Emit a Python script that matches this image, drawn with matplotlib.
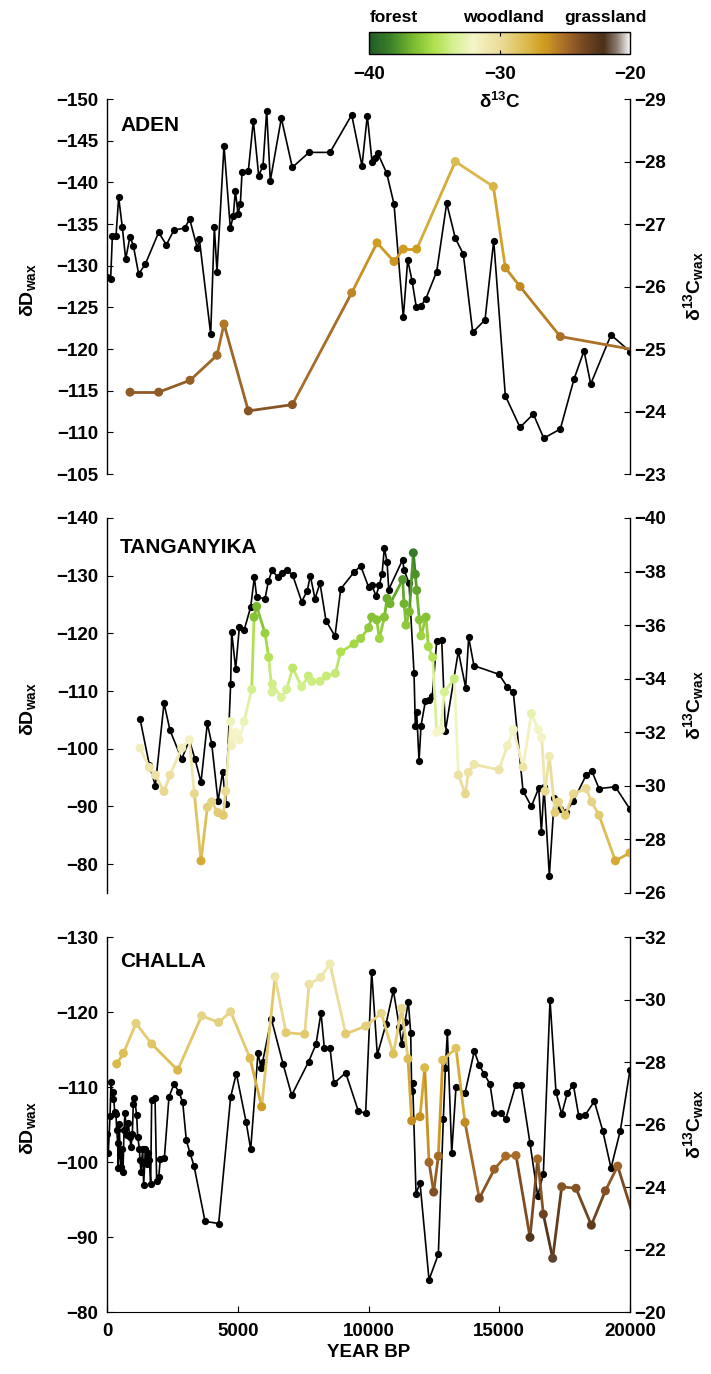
import numpy as np
import matplotlib
matplotlib.use('Agg')
import matplotlib.pyplot as plt
from matplotlib.collections import LineCollection
from matplotlib.colors import LinearSegmentedColormap, Normalize
from matplotlib.cm import ScalarMappable

plt.rcParams['font.family'] = ['Liberation Sans', 'DejaVu Sans']
plt.rcParams['font.weight'] = 'bold'
plt.rcParams['mathtext.fontset'] = 'custom'
plt.rcParams['mathtext.bf'] = 'Liberation Sans:bold'
plt.rcParams['mathtext.rm'] = 'Liberation Sans:bold'
plt.rcParams['mathtext.default'] = 'bf'

# ---- data: ADEN ----
aden_age = [11, 140, 205, 345, 446, 586, 714, 880, 1007, 1211, 1466, 1976, 2269, 2562, 2970, 3161,
            3455, 3531, 3965, 4105, 4206, 4474, 4716, 4831, 4908, 5010, 5099, 5163, 5405, 5596, 5800,
            5966, 6106, 6245, 6666, 7087, 7725, 8528, 9357, 9751, 9954, 10134, 10262, 10352, 10696,
            10975, 11331, 11499, 11664, 11829, 12008, 12187, 12608, 12990, 13320, 13625, 13985,
            14455, 14788, 15232, 15794, 16304, 16700, 17335, 17859, 18241, 18497, 19273, 20000]
aden_dD = [-128.7, -128.4, -133.6, -133.6, -138.2, -134.6, -130.8, -133.5, -132.4, -129, -130.2, -134,
           -132.5, -134.3, -134.5, -135.6, -132.1, -133.2, -121.8, -134.6, -129.3, -144.4, -134.5,
           -136, -139, -136.2, -137.4, -141.2, -141.4, -147.4, -140.8, -142, -148.6, -140.2, -147.7,
           -141.8, -143.6, -143.6, -148.1, -142, -148, -142.5, -142.9, -143.5, -141.1, -137.4, -123.8,
           -130.7, -128.2, -125, -125.2, -126, -129.3, -137.5, -133.3, -131.4, -122, -123.5, -133,
           -114.4, -110.6, -112.2, -109.3, -110.4, -116.4, -119.8, -115.8, -121.7, -119.7]
aden_c_age = [880, 1976, 3174, 4206, 4474, 5405, 7087, 9357, 10325, 10975, 11331, 11843, 13320,
              14774, 15232, 15794, 17335, 20400]
aden_d13c = [-24.31, -24.31, -24.5, -24.9, -25.4, -24.01, -24.11, -25.9, -26.7, -26.4, -26.6, -26.6,
             -28.0, -27.6, -26.3, -26.0, -25.2, -24.97]

# ---- data: TANGANYIKA ----
tang_age = [1262, 1619, 1848, 2180, 2409, 2856, 3148, 3365, 3595, 3836, 4003, 4245, 4424, 4538, 4729,
            4767, 4920, 5061, 5240, 5495, 5634, 5724, 6042, 6169, 6310, 6526, 6679, 6871, 7100, 7444,
            7659, 7774, 7954, 8145, 8374, 8719, 8936, 9445, 9700, 10006, 10121, 10286, 10415, 10518,
            10606, 10709, 10773, 11307, 11358, 11549, 11740, 11790, 11843, 11932, 12008, 12173, 12315,
            12441, 12608, 12799, 12939, 13435, 13715, 13830, 14032, 14990, 15309, 15538, 15909, 16227,
            16510, 16610, 16712, 16915, 17106, 17324, 17553, 17833, 18319, 18535, 18815, 19440, 20000]
tang_dD = [-105.2, -97.2, -93.6, -107.9, -103.2, -98.2, -101.5, -98.2, -94.2, -104.4, -100.9, -90.9,
           -96, -90.5, -111.3, -120.3, -113.8, -121.1, -120.5, -124.6, -129.7, -126.3, -126, -129,
           -130.9, -129.8, -130.5, -130.9, -130.1, -125.5, -127.4, -130, -126, -128.7, -122.2, -119.5,
           -127.7, -130.6, -131.7, -128, -128.4, -126.5, -128.4, -130.3, -134.8, -132.4, -127.6,
           -132.8, -131, -128.7, -113.2, -104, -106.3, -97.8, -104, -108.2, -108.5, -109.2, -118.7,
           -118.9, -103, -116.9, -110.6, -119.3, -114.4, -112.9, -110.7, -109.8, -92.7, -90, -93.2,
           -85.5, -93.4, -78, -91.5, -89.5, -89.1, -90.9, -95.4, -96.2, -93.1, -93.4, -89.5]
tang_c_age = [1262, 1619, 1848, 2180, 2409, 2856, 3148, 3340, 3595, 3836, 4003, 4245, 4449, 4538, 4729,
              4767, 4920, 5061, 5240, 5533, 5622, 5724, 6042, 6182, 6310, 6322, 6666, 6871, 7100, 7444,
              7699, 7826, 8145, 8387, 8731, 8936, 9445, 9700, 10006, 10121, 10312, 10415, 10606, 10709,
              10823, 11307, 11358, 11434, 11562, 11714, 11790, 11843, 11944, 12008, 12200, 12288,
              12454, 12608, 12761, 12900, 13282, 13435, 13703, 13817, 14032, 14990, 15309, 15538,
              15909, 16227, 16496, 16621, 16750, 16915, 17132, 17259, 17527, 17833, 18319, 18535,
              18815, 19440, 20000]
tang_d13c = [-31.41, -30.69, -30.4, -29.79, -30.4, -31.41, -31.72, -29.71, -27.2, -29.2, -29.4, -29.0,
             -28.9, -29.8, -32.4, -31.5, -32.0, -31.72, -32.4, -33.6, -36.3, -36.7, -35.7, -34.8,
             -33.5, -33.8, -33.3, -33.6, -34.4, -33.7, -34.1, -33.9, -33.9, -34.1, -34.2, -35.0,
             -35.3, -35.5, -35.9, -36.3, -36.2, -35.5, -36.3, -37.0, -36.8, -37.7, -36.8, -36.0,
             -36.5, -38.7, -37.9, -37.3, -36.2, -35.6, -36.3, -35.2, -34.8, -32.0, -32.1, -33.5,
             -34.0, -30.4, -29.7, -30.5, -30.8, -30.6, -31.5, -32.1, -30.7, -32.7, -32.1, -31.8,
             -29.8, -31.1, -29.0, -29.4, -28.9, -29.7, -29.9, -29.4, -28.9, -27.2, -27.5]

# ---- data: CHALLA ----
challa_age = [0, 50, 115, 153, 217, 242, 293, 344, 370, 408, 433, 472, 497, 535, 574, 612, 650, 688,
              752, 816, 867, 918, 969, 1007, 1045, 1134, 1173, 1237, 1262, 1300, 1364, 1402, 1466,
              1517, 1568, 1619, 1670, 1708, 1836, 1899, 1976, 2040, 2193, 2371, 2562, 2741, 2894,
              3033, 3174, 3327, 3748, 4270, 4729, 4946, 5316, 5495, 5775, 5889, 5953, 6284, 6731,
              7062, 7712, 7992, 8183, 8311, 8528, 8681, 9128, 9610, 9891, 10121, 10336, 10669, 10950,
              11180, 11269, 11396, 11523, 11613, 11651, 11690, 11817, 11970, 12314, 12670, 12861,
              12939, 13015, 13182, 13346, 13690, 14046, 14237, 14428, 14646, 14811, 15055, 15246,
              15629, 15832, 16176, 16470, 16685, 16941, 17170, 17388, 17603, 17833, 18037, 18292,
              18636, 18955, 19273, 19630, 20000]
challa_dD = [-103.7, -101.2, -106.1, -110.7, -108.4, -109.4, -106.7, -106.4, -104.3, -102.6, -99.2,
             -105.1, -101.0, -99.4, -101.8, -98.7, -104.3, -106.6, -103.6, -105.2, -103.4, -102.0,
             -103.8, -107.8, -108.6, -106.3, -103.4, -101.8, -100.3, -98.7, -101.8, -96.9, -101.8,
             -99.8, -101.2, -100.3, -97.1, -108.3, -108.6, -97.5, -98.0, -100.4, -100.5, -108.7,
             -110.4, -109.4, -108.0, -102.9, -101.2, -99.5, -92.1, -91.8, -108.7, -111.8, -105.4,
             -101.7, -114.6, -112.5, -113.4, -119.1, -113.1, -108.9, -113.4, -115.7, -119.9, -115.2,
             -115.2, -110.5, -111.9, -106.8, -106.5, -125.4, -114.3, -118.4, -122.9, -118.0, -115.7,
             -118.7, -121.4, -117.2, -109.5, -110.5, -95.8, -97.2, -84.3, -87.7, -105.7, -112.5,
             -117.3, -101.2, -110.0, -109.2, -114.8, -112.9, -111.7, -110.4, -106.5, -106.6, -105.7,
             -110.3, -110.3, -102.5, -95.5, -98.4, -121.6, -109.3, -106.4, -109.2, -110.3, -106.2,
             -106.3, -108.1, -104.2, -99.2, -104.2, -112.3]
challa_c_age = [370, 625, 1109, 1708, 2703, 3620, 4270, 4729, 5469, 5915, 6425, 6845, 7559, 7725, 8170,
                8528, 9128, 9891, 10490, 10950, 11269, 11510, 11651, 11970, 12148, 12314, 12492, 12670,
                12837, 13346, 13690, 14237, 14811, 15246, 15641, 16176, 16470, 16685, 17043, 17388,
                17935, 18522, 19057, 19528, 20300]
challa_d13c = [-27.94, -28.28, -29.24, -28.58, -27.74, -29.48, -29.27, -29.61, -28.12, -26.57, -30.73,
               -28.94, -28.89, -30.49, -30.71, -31.14, -28.9, -29.15, -29.56, -28.26, -29.72, -28.1,
               -26.12, -26.25, -27.82, -24.79, -23.84, -24.99, -28.06, -28.44, -26.07, -23.64, -24.57,
               -24.99, -25.01, -22.39, -24.9, -23.13, -21.72, -24.01, -23.96, -22.78, -23.88, -24.67,
               -22.6]

# colour scale (forest -> woodland -> grassland)
cmap = LinearSegmentedColormap.from_list('veg', [
    (0.00, '#1f5a28'), (0.08, '#3c8228'), (0.17, '#7cbc30'), (0.25, '#b0e050'),
    (0.32, '#d4f090'), (0.40, '#f5f5c8'), (0.50, '#eadc98'), (0.60, '#dcbc50'),
    (0.67, '#d09c20'), (0.75, '#a86c28'), (0.82, '#7a4a22'), (0.90, '#4a3018'),
    (0.95, '#8a7a70'), (1.00, '#f4f4f4')])
norm = Normalize(-40, -20)

fig = plt.figure(figsize=(7.11, 13.74), dpi=100)

panels = [
    ('ADEN', aden_age, aden_dD, aden_c_age, aden_d13c, (-105, -150), range(-150, -104, 5),
     (-23, -29), range(-29, -22, 1), 0.6550, 0.929),
    ('TANGANYIKA', tang_age, tang_dD, tang_c_age, tang_d13c, (-75, -140), range(-140, -79, 10),
     (-26, -40), range(-40, -25, 2), 0.3501, 0.921),
    ('CHALLA', challa_age, challa_dD, challa_c_age, challa_d13c, (-80, -130), range(-130, -79, 10),
     (-20, -32), range(-32, -19, 2), 0.0451, 0.936),
]

for i, (name, age, dD, cage, c13, ylim, yt, ylim2, yt2, bottom, ty) in enumerate(panels):
    ax = fig.add_axes([0.1505, bottom, 0.7356, 0.2729])
    ax2 = ax.twinx()
    ax.plot(age, dD, '-o', color='black', lw=1.2, ms=4.2, zorder=3)

    x = np.array(cage, dtype=float)
    y = np.array(c13, dtype=float)
    pts = np.column_stack([x, y]).reshape(-1, 1, 2)
    segs = np.concatenate([pts[:-1], pts[1:]], axis=1)
    lc = LineCollection(segs, colors=cmap(norm((y[:-1] + y[1:]) / 2)), linewidths=2.0, zorder=2)
    ax2.add_collection(lc)
    ax2.scatter(x, y, s=42, c=cmap(norm(y)), edgecolors='none', zorder=3)

    ax.set_xlim(0, 20000)
    ax.set_ylim(*ylim)
    ax.set_yticks(list(yt))
    ax2.set_ylim(*ylim2)
    ax2.set_yticks(list(yt2))

    for s in ['top', 'right']:
        ax.spines[s].set_visible(False)
    for s in ['top', 'left', 'bottom']:
        ax2.spines[s].set_visible(False)
    ax.spines['left'].set_linewidth(1.0)
    ax2.spines['right'].set_linewidth(1.0)

    ax.tick_params(axis='y', direction='in', length=4, labelsize=13.5, left=True, right=False, pad=6.5)
    ax2.tick_params(axis='y', direction='in', length=4, labelsize=13.5, pad=3)
    if i < 2:
        ax.spines['bottom'].set_visible(False)
        ax.tick_params(axis='x', bottom=False, labelbottom=False)
    else:
        ax.set_xticks([0, 5000, 10000, 15000, 20000])
        ax.tick_params(axis='x', direction='in', length=4, labelsize=13.5, pad=8)
        ax.set_xlabel('YEAR BP', fontsize=13.5, fontweight='bold', labelpad=3)

    ax.set_ylabel('δD$_{wax}$', fontsize=14, fontweight='bold')
    ax.yaxis.set_label_coords(-0.132, 0.49)
    ax2.set_ylabel('δ$^{13}$C$_{wax}$', fontsize=14, fontweight='bold')
    ax2.yaxis.set_label_coords(1.097, 0.5)
    ax.text(0.025, ty, name, transform=ax.transAxes, fontsize=15, fontweight='bold', va='center')

# colour bar
cax = fig.add_axes([0.5194, 0.9607, 0.3667, 0.016])
cb = fig.colorbar(ScalarMappable(norm=norm, cmap=cmap), cax=cax, orientation='horizontal',
                  ticks=[-40, -30, -20])
cb.outline.set_linewidth(1.0)
cax.tick_params(axis='x', direction='in', length=3, top=True, labelsize=13.5, pad=9)
cax.set_xlabel('δ$^{13}$C', fontsize=13.5, fontweight='bold', labelpad=6)
fig.text(0.554, 0.9876, 'forest', ha='center', va='center', fontsize=12.5, fontweight='bold')
fig.text(0.7075, 0.9876, 'woodland', ha='center', va='center', fontsize=12.5, fontweight='bold')
fig.text(0.852, 0.9876, 'grassland', ha='center', va='center', fontsize=12.5, fontweight='bold')

fig.savefig('out.png', dpi=100)
